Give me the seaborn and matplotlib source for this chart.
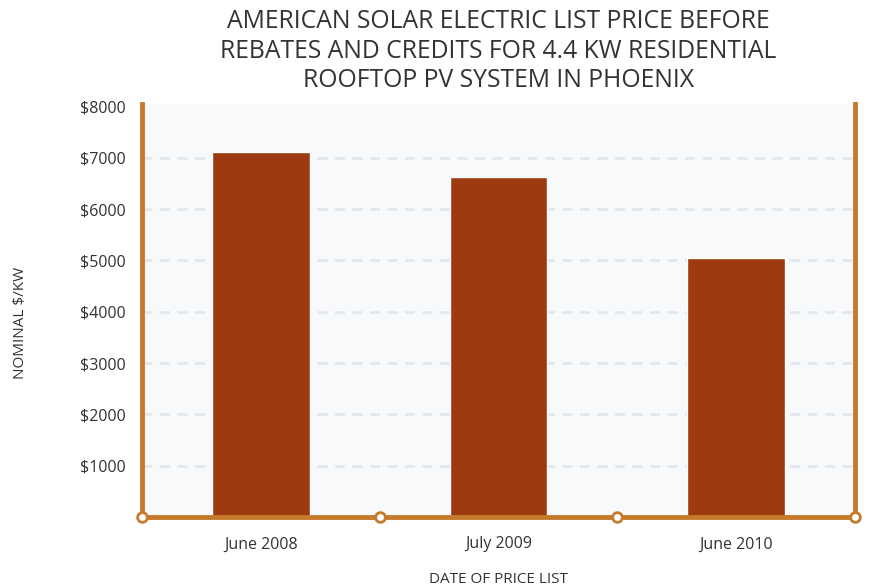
import seaborn as sns
import matplotlib.pyplot as plt
import pandas as pd

dates = ["June 2008", "July 2009", "June 2010"]
prices = [7120, 6620, 5040]
y_ticks = [1000, 2000, 3000, 4000, 5000, 6000, 7000, 8000]
y_tick_labels = ["$1000", "$2000", "$3000", "$4000", "$5000", "$6000", "$7000", "$8000"]

df = pd.DataFrame({"date": dates, "price": prices})

sns.set_theme(style="white")
plt.rcParams["font.family"] = ["Open Sans", "DejaVu Sans"]

orange = "#c67a2c"
text_col = "#333333"

fig = plt.figure(figsize=(8.69, 5.88), dpi=100)
ax = fig.add_axes([142 / 869, 1 - 517 / 588, 713 / 869, 413 / 588])
ax.set_facecolor("#f8f9fb")

sns.barplot(data=df, x="date", y="price", color="#9e3a0f", width=0.41,
            saturation=1, ax=ax, zorder=3)

ax.set_xlim(-0.5, 2.5)
ax.set_ylim(0, 8050)
ax.set_yticks(y_ticks)
ax.set_yticklabels(y_tick_labels)
for y in y_ticks[:-1]:
    ax.axhline(y, color="#e1e5ec", lw=1.8, ls=(0, (4, 3)), zorder=1)

ax.spines["top"].set_visible(False)
for s in ["left", "right", "bottom"]:
    ax.spines[s].set_color(orange)
    ax.spines[s].set_linewidth(3.5)
    ax.spines[s].set_zorder(4)

# circle markers on the bottom axis
for xm in [-0.5, 0.5, 1.5, 2.5]:
    ax.plot(xm, 0, marker="o", ms=7, mfc="white", mec=orange, mew=2,
            clip_on=False, zorder=5)

ax.tick_params(axis="both", length=0, labelsize=11.5, colors=text_col)
ax.tick_params(axis="x", pad=14)
ax.tick_params(axis="y", pad=12)

ax.set_xlabel("DATE OF PRICE LIST", fontsize=11, color=text_col, labelpad=14)
ax.set_ylabel("NOMINAL $/KW", fontsize=11, color=text_col)
ax.yaxis.set_label_coords(-0.16, 0.47)
ax.set_title("AMERICAN SOLAR ELECTRIC LIST PRICE BEFORE\n"
             "REBATES AND CREDITS FOR 4.4 KW RESIDENTIAL\n"
             "ROOFTOP PV SYSTEM IN PHOENIX",
             fontsize=17.8, color=text_col, pad=12, linespacing=1.25)

plt.savefig("out.png", dpi=100)
